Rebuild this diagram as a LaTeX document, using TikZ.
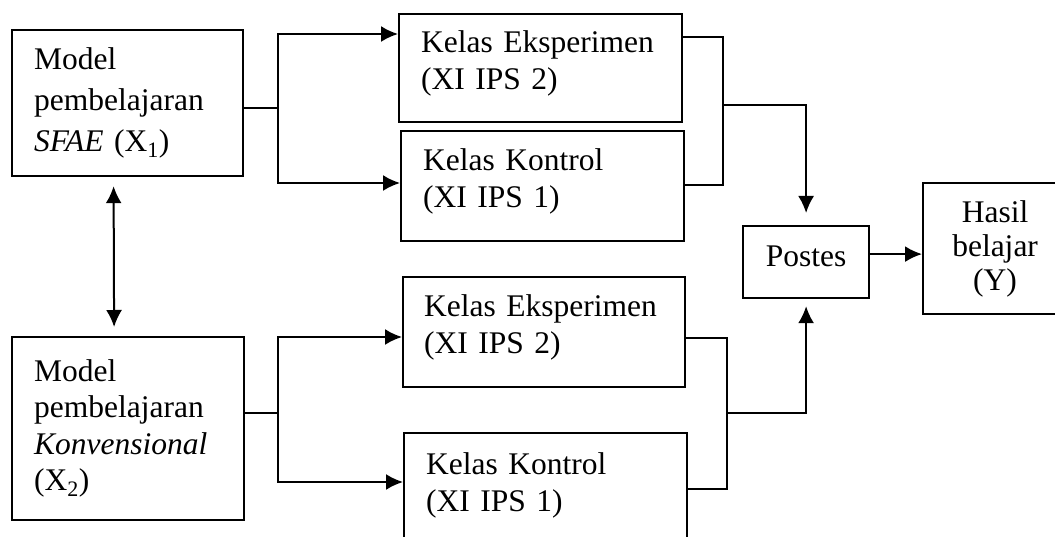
\documentclass[tikz,border=0pt]{standalone}
\usepackage{fontspec}
\setmainfont{Liberation Serif}
\usetikzlibrary{arrows.meta}
\tikzset{>={Latex[length=17pt,width=16pt]}}
\tikzset{
  box/.style={draw, line width=2.2pt, anchor=north west, inner sep=0pt, align=left,
    font=\fontsize{31.5}{37}\selectfont},
  kelas/.style={box, execute at end node={\rule[-16pt]{0pt}{0pt}}},
  link/.style={line width=2pt}
}

\begin{document}
\begin{tikzpicture}[x=1pt,y=-1pt]
\useasboundingbox (0,0) rectangle (1055,537);
\clip (0,0) rectangle (1055,537);

% models
\node[box, minimum width=231pt, minimum height=146pt, text width=187pt,
  font=\fontsize{31.5}{41}\selectfont] (sfae) at (11,29)
  {Model\\pembelajaran\\\textit{SFAE} (X\textsubscript{1})};
\node[box, minimum width=232pt, minimum height=183pt, text width=188pt,
  font=\fontsize{31.5}{36.5}\selectfont] (konv) at (11,336)
  {Model\\pembelajaran\\\textit{Konvensional}\\(X\textsubscript{2})};

% classes
\node[kelas, minimum width=283pt, minimum height=108pt, text width=239pt] (eks1) at (398,13)
  {Kelas Eksperimen\\(XI IPS 2)};
\node[kelas, minimum width=283pt, minimum height=110pt, text width=239pt] (kon1) at (400,130)
  {Kelas Kontrol\\(XI IPS 1)};
\node[kelas, minimum width=282pt, minimum height=110pt, text width=240pt] (eks2) at (402,276)
  {Kelas Eksperimen\\(XI IPS 2)};
\node[kelas, minimum width=283pt, minimum height=114pt, text width=239pt] (kon2) at (403,432)
  {Kelas Kontrol\\(XI IPS 1)};

\node[box, align=center, minimum width=126pt, minimum height=72pt, text depth=11pt] (postes) at (742,225)
  {Postes};
\node[box, align=center, minimum width=144pt, minimum height=131pt, text width=120pt,
  font=\fontsize{31.5}{34}\selectfont] (hasil) at (922,182)
  {Hasil\\belajar\\(Y)};

% forks
\coordinate (ja) at (278,108);
\draw[link] (sfae.east |- ja) -- (ja);
\draw[link,->] (ja) |- ([yshift=-21pt]eks1.north west);
\draw[link,->] (ja) |- ([yshift=-53pt]kon1.north west);

\coordinate (jc) at (278,413);
\draw[link] (konv.east |- jc) -- (jc);
\draw[link,->] (jc) |- ([yshift=-61pt]eks2.north west);
\draw[link,->] (jc) |- ([yshift=-50pt]kon2.north west);

% merges into postes
\coordinate (jb) at (723,105);
\draw[link] ([yshift=-24pt]eks1.north east) -| (jb);
\draw[link] ([yshift=-55pt]kon1.north east) -| (jb);
\draw[link,->] (jb) -| ([yshift=12pt]postes.north);

\coordinate (jd) at (727,413);
\draw[link] ([yshift=-62pt]eks2.north east) -| (jd);
\draw[link] ([yshift=-57pt]kon2.north east) -| (jd);
\draw[link,->] (jd) -| ([yshift=-7pt]postes.south);

\coordinate (pe) at ([yshift=8pt]postes.east);
\draw[link,->] (pe) -- (pe -| hasil.west);

\draw[link,<->] ([xshift=-14pt,yshift=-9pt]sfae.south) -- ([xshift=-14pt,yshift=9pt]konv.north);
\end{tikzpicture}
\end{document}
